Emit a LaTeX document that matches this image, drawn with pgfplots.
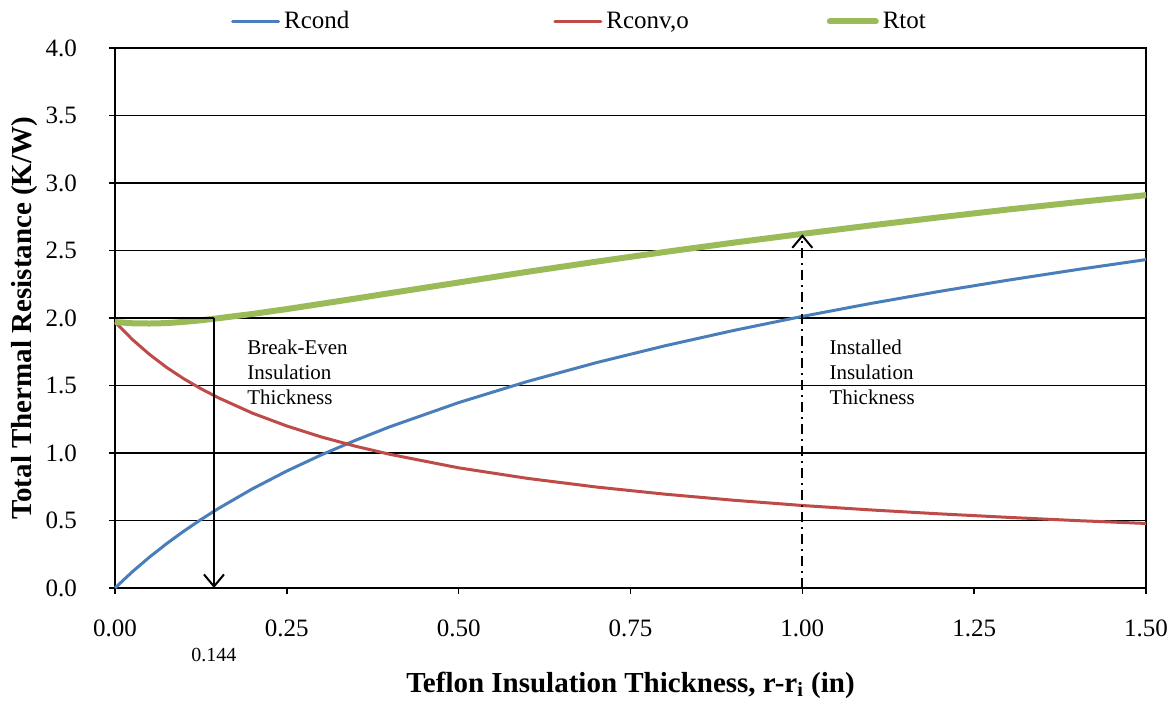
\documentclass[border=0pt]{standalone}
\usepackage{fontspec}
\setmainfont{Liberation Serif}
\usepackage{pgfplots}
\pgfplotsset{compat=1.18}
\usetikzlibrary{arrows.meta}
\definecolor{cblue}{RGB}{74,126,187}
\definecolor{cred}{RGB}{190,75,72}
\definecolor{cgreen}{RGB}{155,187,89}
\begin{document}
\begin{tikzpicture}
\begin{axis}[
  scale only axis,
  width=515.5pt, height=270pt,
  xmin=0, xmax=1.5, ymin=0, ymax=4,
  clip=false,
  xtick={0,0.25,...,1.5}, ytick={0,0.5,...,4},
  xticklabel style={/pgf/number format/.cd,fixed,fixed zerofill,precision=2},
  yticklabel style={/pgf/number format/.cd,fixed,fixed zerofill,precision=1},
  /pgf/number format/assume math mode=true,
  ticklabel style={font=\fontsize{12.5}{14}\selectfont},
  tick align=outside, tick pos=left,
  major tick length=3pt,
  tick style={black, line width=0.8pt},
  axis line style={black, line width=0.9pt},
  ymajorgrids, grid style={black, line width=0.7pt},
  xticklabel shift=9.5pt, yticklabel shift=12.5pt,
  xlabel={\textbf{Teflon Insulation Thickness, r-r$_{\mathbf{i}}$ (in)}},
  ylabel={\textbf{Total Thermal Resistance (K/W)}},
  label style={font=\fontsize{14.5}{16}\selectfont},
  xlabel style={yshift=-10.5pt},
  ylabel style={yshift=-3pt},
  legend columns=3,
  legend style={at={(0.5,1)}, anchor=south, xshift=-25pt, yshift=4pt, draw=none, fill=none,
    font=\fontsize{12.5}{14}\selectfont,
    /tikz/column 2/.style={column sep=100pt},
    /tikz/column 4/.style={column sep=67pt}},
  legend image code/.code={\draw[#1, line cap=round] (0pt,0pt) -- (23pt,0pt);},
]
\addplot[cblue, line width=1.5pt] coordinates {
(0,0) (0.025,0.1191) (0.05,0.2279) (0.075,0.3280) (0.1,0.4206) (0.125,0.5068)
(0.15,0.5875) (0.2,0.7347) (0.25,0.8664) (0.3,0.9856) (0.35,1.0943) (0.4,1.1944)
(0.5,1.3733) (0.6,1.5297) (0.7,1.6688) (0.8,1.7939) (0.9,1.9076) (1.0,2.0118)
(1.1,2.1080) (1.2,2.1973) (1.3,2.2807) (1.4,2.3588) (1.5,2.4324)};
\addlegendentry{Rcond}
\addplot[cred, line width=1.5pt] coordinates {
(0,1.97) (0.025,1.842) (0.05,1.731) (0.075,1.634) (0.1,1.550) (0.125,1.476)
(0.15,1.410) (0.2,1.295) (0.25,1.200) (0.3,1.119) (0.35,1.050) (0.4,0.990)
(0.5,0.890) (0.6,0.812) (0.7,0.748) (0.8,0.695) (0.9,0.650) (1.0,0.611)
(1.1,0.578) (1.2,0.549) (1.3,0.523) (1.4,0.499) (1.5,0.478)};
\addlegendentry{Rconv,o}
\addplot[cgreen, line width=3pt] coordinates {
(0,1.97) (0.025,1.961) (0.05,1.959) (0.075,1.962) (0.1,1.971) (0.125,1.983)
(0.15,1.998) (0.2,2.030) (0.25,2.066) (0.3,2.105) (0.35,2.144) (0.4,2.184)
(0.5,2.263) (0.6,2.342) (0.7,2.417) (0.8,2.489) (0.9,2.558) (1.0,2.623)
(1.1,2.686) (1.2,2.746) (1.3,2.804) (1.4,2.858) (1.5,2.910)};
\addlegendentry{Rtot}
% annotations
\draw[black, line width=1pt] (axis cs:0,2.0) -- (axis cs:0.144,2.0);
\draw[black, line width=1pt, -{Straight Barb[length=6pt,width=10pt,line width=1pt]}] (axis cs:0.144,2.0) -- (axis cs:0.144,0);
\draw[black, line width=1pt, dash pattern=on 5pt off 2.5pt on 1pt off 2.5pt, -{Straight Barb[length=6pt,width=10pt,line width=1pt]}] (axis cs:1.0,0) -- (axis cs:1.0,2.62);
\node[anchor=north west, align=left, font=\fontsize{10.5}{12.5}\selectfont, inner sep=0pt] at (axis cs:0.192,1.84) {Break-Even\\Insulation\\Thickness};
\node[anchor=north west, align=left, font=\fontsize{10.5}{12.5}\selectfont, inner sep=0pt] at (axis cs:1.039,1.84) {Installed\\Insulation\\Thickness};
\node[font=\fontsize{10}{12}\selectfont] at (axis cs:0.144,0) [yshift=-33.5pt] {0.144};
\coordinate (ll) at (rel axis cs:0,0);
\coordinate (ur) at (rel axis cs:1,1);
\end{axis}
\pgfresetboundingbox
\path ([shift={(-57.5pt,-57pt)}]ll) rectangle ([shift={(15pt,24pt)}]ur);
\end{tikzpicture}
\end{document}
